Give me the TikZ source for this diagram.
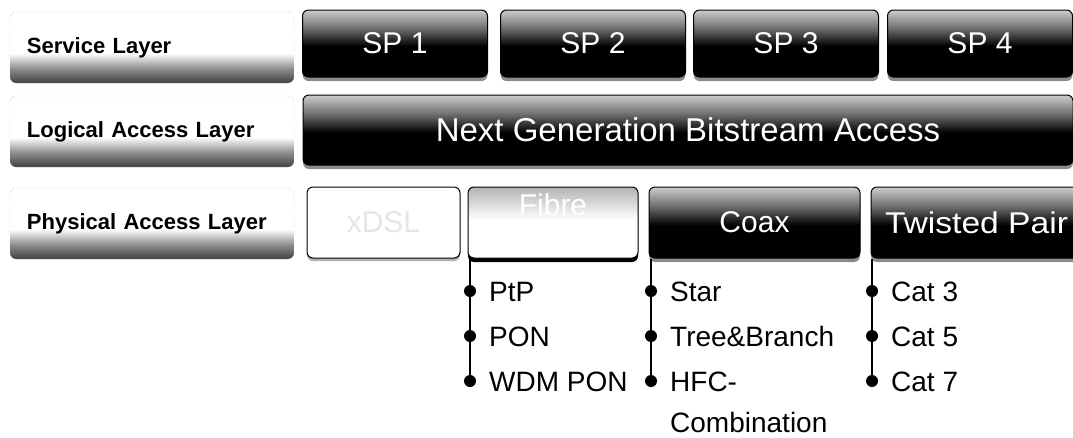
\documentclass[tikz,border=0pt]{standalone}
\usepackage{fontspec}
\setmainfont{Liberation Sans}
\usepackage{tikz}
\pgfdeclareverticalshading{labelshade}{100bp}{color(0bp)=(black!75); color(25bp)=(black!75); color(35bp)=(black!45); color(46bp)=(white); color(100bp)=(white)}
\pgfdeclareverticalshading{darkshade}{100bp}{color(0bp)=(black); color(25bp)=(black); color(48bp)=(black); color(62bp)=(black!55); color(75bp)=(black!20); color(100bp)=(black!20)}
\pgfdeclareverticalshading{fibreshade}{100bp}{color(0bp)=(white); color(25bp)=(white); color(52bp)=(white); color(75bp)=(black!30); color(100bp)=(black!30)}

\begin{document}
\begin{tikzpicture}[x=1pt,y=-1pt,
    layerbox/.style={rounded corners=6pt,draw=black!30,densely dotted,shade,shading=labelshade,minimum height=71pt,text width=250pt,inner xsep=17pt,align=left,font=\bfseries\fontsize{22}{26}\selectfont},
    darkbox/.style={rounded corners=6pt,draw=black,line width=1pt,shade,shading=darkshade,text=white,inner sep=0pt,font=\fontsize{30}{36}\selectfont,preaction={fill=black!45,transform canvas={yshift=-4pt}}},
    lightbox/.style={rounded corners=6pt,draw=black,line width=1pt,fill=white,inner sep=0pt,minimum height=71pt,font=\fontsize{30}{36}\selectfont,preaction={fill=black!30,transform canvas={yshift=-3pt}}},
    fibrebox/.style={rounded corners=6pt,draw=black,line width=1pt,shade,shading=fibreshade,inner sep=0pt,minimum height=71pt,preaction={fill=black,transform canvas={yshift=-4pt}}},
    item/.style={anchor=base west,inner sep=0pt,font=\fontsize{28}{32}\selectfont},
    dot/.style={circle,fill=black,inner sep=0pt,minimum size=12pt}]
    \useasboundingbox (0,0) rectangle (1073,437);
    \clip (0,0) rectangle (1073,437);
    \node[layerbox] (service) at (152,47.5) {Service Layer};
    \node[layerbox] (logical) at (152,131.5) {Logical Access Layer};
    \node[layerbox] (physical) at (152,223.5) {Physical Access Layer};
    \foreach \n/\x in {1/395,2/593,3/786,4/980}{
      \node[darkbox,minimum width=185pt,minimum height=67pt] (sp\n) at (\x,43.5) {SP \n};
    }
    \node[darkbox,minimum width=770pt,minimum height=70pt,font=\fontsize{33}{40}\selectfont] (ngba) at (688,130) {Next Generation Bitstream Access};
    \node[lightbox,minimum width=153pt,text=black!10] (xdsl) at (383.5,222.5) {xDSL};
    \node[fibrebox,minimum width=170pt] (fibre) at (553,222.5) {};
    \node[text=white,font=\fontsize{30}{36}\selectfont] (fibretxt) at (553,205) {Fibre};
    \node[darkbox,minimum width=211pt,minimum height=71pt] (coax) at (754.5,222.5) {Coax};
    \node[darkbox,minimum width=211pt,minimum height=71pt] (twisted) at (976.5,222.5) {\scalebox{1.12}[1]{Twisted Pair}};
    \foreach \col/\x/\a/\b/\c in {fibre/470/PtP/PON/WDM PON,coax/651/Star/Tree\&Branch/HFC-,twisted/872/Cat 3/Cat 5/Cat 7}{
      \node[dot] (\col1) at (\x,291) {};
      \node[dot] (\col2) at (\x,336) {};
      \node[dot] (\col3) at (\x,381) {};
      \draw[line width=2pt] (\col3 |- \col.south) -- (\col3);
      \node[item] (\col a) at (\x+19,301) {\a};
      \node[item] (\col b) at (\x+19,346) {\b};
      \node[item] (\col c) at (\x+19,391) {\c};
    }
    \node[item] (coaxd) at (670,432) {Combination};
  \end{tikzpicture}
\end{document}
